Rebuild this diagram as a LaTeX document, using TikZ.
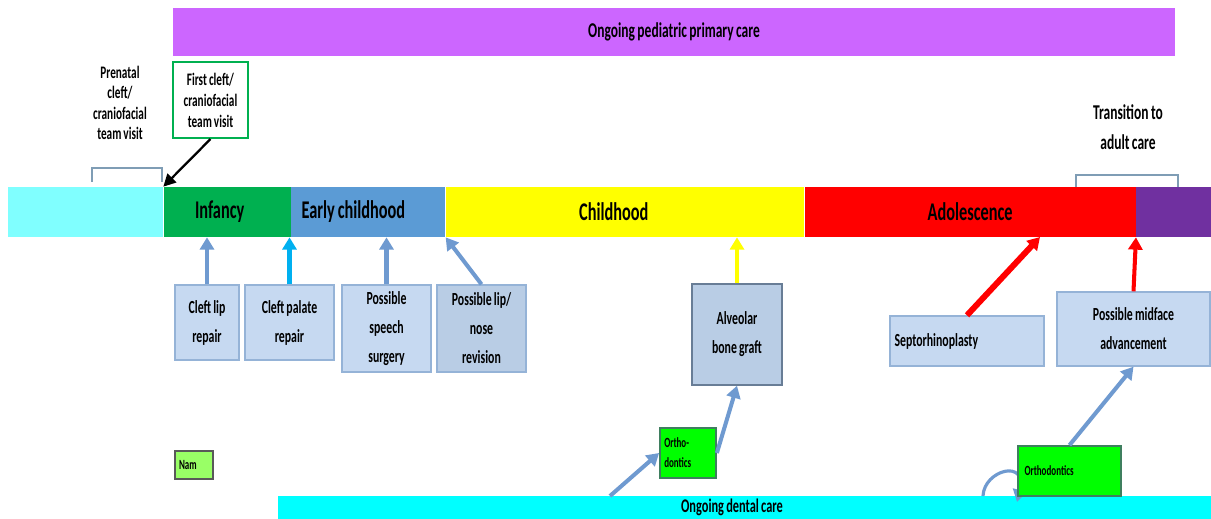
\documentclass[tikz,border=0pt]{standalone}
\usepackage{fontspec}
\setmainfont[FakeStretch=0.64,WordSpace=0.8]{Carlito}
\usetikzlibrary{positioning,arrows.meta}

\definecolor{prenatalcyan}{HTML}{80FFFF}
\definecolor{infancygreen}{HTML}{00B050}
\definecolor{earlyblue}{HTML}{5B9BD5}
\definecolor{childyellow}{HTML}{FFFF00}
\definecolor{teenred}{HTML}{FF0000}
\definecolor{adultpurple}{HTML}{7030A0}
\definecolor{careviolet}{HTML}{CC66FF}
\definecolor{dentalcyan}{HTML}{00FFFF}
\definecolor{boxfill}{HTML}{C6D9F1}
\definecolor{boxdark}{HTML}{B9CDE5}
\definecolor{boxline}{HTML}{95B3D7}
\definecolor{arrowblue}{HTML}{6F9AD0}
\definecolor{palateblue}{HTML}{00B0F0}
\definecolor{bracketgrey}{HTML}{7F9DB5}
\definecolor{orthogreen}{HTML}{00FF00}
\definecolor{orthoedge}{HTML}{3F7F5F}
\definecolor{namgreen}{HTML}{99FF66}

\begin{document}
\begin{tikzpicture}[x=0.02cm,y=-0.02cm,
  seg/.style={rectangle,minimum height=1cm,inner sep=0pt,font=\bfseries\fontsize{14.5}{16}\selectfont},
  proc/.style={rectangle,draw=boxline,fill=boxfill,line width=0.8pt,align=center,inner sep=0pt,font=\bfseries\fontsize{10.5}{16.5}\selectfont},
  ortho/.style={rectangle,draw=orthoedge,fill=orthogreen,line width=1pt,align=left,inner sep=0pt,font=\bfseries\fontsize{8}{11.3}\selectfont},
  up/.style={-{Triangle[length=7pt,width=8pt]},line width=2.3pt,draw=arrowblue},
  bracket/.style={draw=bracketgrey,line width=1pt}]
\path[use as bounding box,fill=white] (0,0) rectangle (1211,519);

% care bars
\node[seg,fill=careviolet,minimum width=20.04cm,minimum height=0.96cm,font=\bfseries\fontsize{12}{14}\selectfont] (primary) at (674,32) {Ongoing pediatric primary care};

% timeline
\node[seg,fill=prenatalcyan,minimum width=3.1cm] (prenatal) at (85.5,212) {};
\node[seg,fill=infancygreen,minimum width=2.54cm,right=0pt of prenatal] (infancy) {Infancy\hspace*{0.3cm}};
\node[seg,fill=earlyblue,minimum width=3.08cm,right=0pt of infancy] (early) {Early childhood\hspace*{0.6cm}};
\node[seg,fill=childyellow,minimum width=7.16cm,right=0pt of early] (childhood) {Childhood\hspace*{0.45cm}};
\node[seg,fill=teenred,minimum width=6.62cm,right=0pt of childhood] (adolescence) {Adolescence};
\node[seg,fill=adultpurple,minimum width=1.5cm,right=0pt of adolescence] (adult) {};

% visits above the bar
\node[align=center,font=\bfseries\fontsize{10}{11.5}\selectfont] (prenote) at (120,103) {Prenatal\\cleft/\\craniofacial\\team visit};
\node[draw=infancygreen,line width=1.2pt,minimum width=1.5cm,minimum height=1.52cm,align=center,inner sep=0pt,font=\bfseries\fontsize{10}{12}\selectfont] (firstvisit) at (210.5,100) {First cleft/\\craniofacial\\team visit};
\node[align=center,font=\bfseries\fontsize{12}{17}\selectfont] (transnote) at (1128,127) {Transition to\\adult care};
\draw[bracket] (92,182) |- (162,168) -- (162,182);
\draw[bracket] (1076,187) |- (1178,175) -- (1178,187);
\draw[-{Triangle[length=7pt,width=7pt]},line width=1.3pt] (firstvisit.south) -- (infancy.north west);

% procedures
\node[proc,minimum width=1.28cm,minimum height=1.5cm] (lip) at (207,322.5) {Cleft lip\\repair};
\node[proc,minimum width=1.78cm,minimum height=1.5cm] (palate) at (289.5,322.5) {Cleft palate\\repair};
\node[proc,minimum width=1.78cm,minimum height=1.74cm] (speech) at (386.5,328.5) {Possible\\speech\\surgery};
\node[proc,fill=boxdark,minimum width=1.78cm,minimum height=1.74cm] (revision) at (481.5,328.5) {Possible lip/\\nose\\revision};
\node[proc,fill=boxdark,draw=boxline!70!black,minimum width=1.8cm,minimum height=2.02cm] (graft) at (737,334.5) {Alveolar\\bone graft};
\node[proc,minimum width=3.08cm,minimum height=1cm,text width=2.9cm,align=left] (septo) at (967,341) {Septorhinoplasty};
\node[proc,minimum width=3.06cm,minimum height=1.48cm] (midface) at (1133.5,329) {Possible midface\\advancement};

% dental care
\node[seg,fill=dentalcyan,minimum width=18.66cm,minimum height=0.44cm,font=\bfseries\fontsize{11}{13}\selectfont] (dental) at (744.5,507) {Ongoing dental care\hspace*{0.5cm}};
\fill[dentalcyan] (dental.south west) rectangle (1211,530);
\coordinate (dentalA) at (610,496);
\coordinate (dentalB) at (983,496);
\coordinate (dentalC) at (1017,502);
\draw[up,line width=1.8pt] (dentalB) .. controls (984,470) and (1028,458) .. (dentalC);
\node[ortho,minimum width=1.12cm,minimum height=1cm,text width=0.95cm] (orthoA) at (688,453) {Ortho-\\dontics};
\node[ortho,minimum width=2.06cm,minimum height=1cm,text width=1.8cm] (orthoB) at (1069.5,471) {Orthodontics};
\node[ortho,fill=namgreen,draw=gray!70!black,minimum width=0.76cm,minimum height=0.56cm,text width=0.6cm] (nam) at (194,465) {Nam};

% arrows up to the stages
\draw[up] (lip.north) -- (lip.north |- infancy.south);
\draw[up,draw=palateblue] (palate.north) -- (palate.north |- infancy.south);
\draw[up] (speech.north) -- (speech.north |- early.south);
\draw[up] (revision.north) -- (early.south east);
\draw[up,draw=childyellow] (graft.north) -- (graft.north |- childhood.south);
\coordinate (septotip) at (1040,237);
\draw[up,draw=teenred,line width=3.4pt] (septo.north) -- (septotip);
\draw[up,draw=teenred] (midface.north) -- (adult.south west);
\draw[up] (orthoA.east) -- (graft.south);
\draw[up] (dentalA) -- (orthoA.west);
\draw[up] (orthoB.north) -- (midface.south);
\end{tikzpicture}
\end{document}
